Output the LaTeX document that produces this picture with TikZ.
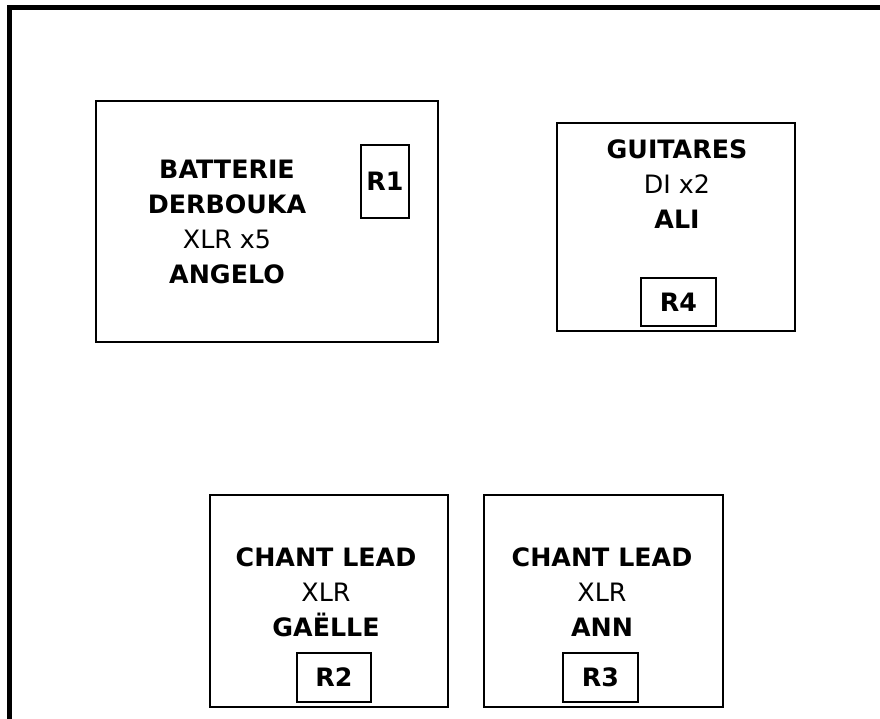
\documentclass[tikz,border=0pt]{standalone}
\usepackage{fontspec}
\setmainfont{DejaVu Sans}
\usetikzlibrary{positioning}

\begin{document}
\begin{tikzpicture}[x=0.025cm, y=-0.025cm, font=\fontsize{18}{25}\selectfont, stage/.style={draw, line width=1.5pt, inner sep=0pt}, plug/.style={draw, line width=1.4pt, inner sep=0pt, font=\fontsize{18}{25}\selectfont\bfseries}, txt/.style={align=center}]
\useasboundingbox (0,0) rectangle (880,718);
% cadre de la scene
\draw[line width=3.2pt] (9.5,740) -- (9.5,7.5) -- (900,7.5);
% postes
\node[stage, minimum width=8.55cm, minimum height=6.025cm] (batt) at (267,221.5) {};
\node[stage, minimum width=5.95cm, minimum height=5.2cm] (guit) at (676,227) {};
\node[stage, minimum width=5.95cm, minimum height=5.3cm] (chantA) at (329,601) {};
\node[stage, minimum width=5.975cm, minimum height=5.3cm] (chantB) at (603.5,601) {};
% retours
\node[plug, minimum width=1.2cm, minimum height=1.825cm] (r1) at (385,181.5) {R1};
\node[plug, minimum width=1.875cm, minimum height=1.2cm] (r4) at (678.5,302) {R4};
\node[plug, minimum width=1.85cm, minimum height=1.225cm] (r2) at (334,677.5) {R2};
\node[plug, minimum width=1.875cm, minimum height=1.225cm] (r3) at (600.5,677.5) {R3};
% textes
\node[txt] (battTxt) at (227,222) {\textbf{BATTERIE}\\\textbf{DERBOUKA}\\XLR x5\\\textbf{ANGELO}};
\node[txt] (guitTxt) at (677,184) {\textbf{GUITARES}\\DI x2\\\textbf{ALI}};
\node[txt] (chantATxt) at (326,592) {\textbf{CHANT LEAD}\\XLR\\\textbf{GAËLLE}};
\node[txt] (chantBTxt) at (602,592) {\textbf{CHANT LEAD}\\XLR\\\textbf{ANN}};
\end{tikzpicture}
\end{document}
